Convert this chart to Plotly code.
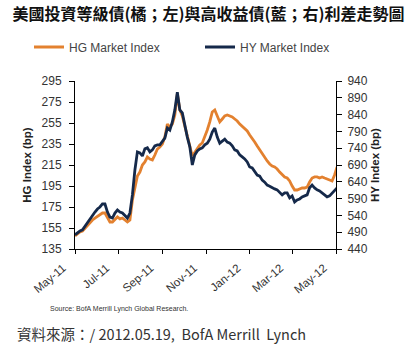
import pandas as pd
import plotly.graph_objects as go

# Half-weekly observation dates (every 3.5 days) from May 2011 to early May 2012
dates = pd.date_range("2011-05-01", periods=106, freq="84h")

# HG Market Index spread (bp), left axis (orange)
hg = [147.4, 149.3, 151.2, 152.1, 155.0, 157.9, 159.8, 162.6, 164.5, 166.4,
      167.4, 169.3, 169.3, 164.5, 160.7, 160.7, 163.6, 165.5, 163.6, 164.5,
      162.6, 160.7, 162.6, 181.7, 193.1, 204.5, 208.3, 215.0, 217.9, 222.6,
      220.7, 219.8, 224.5, 230.2, 232.1, 235.0, 241.7, 254.0, 251.2, 254.0,
      262.6, 282.6, 267.4, 261.7, 252.1, 243.6, 233.1, 223.6, 227.4, 231.2,
      234.0, 236.0, 241.7, 248.3, 256.0, 265.5, 267.4, 261.7, 256.0, 258.8,
      261.7, 262.6, 261.7, 260.7, 258.8, 256.9, 254.0, 252.1, 250.2, 247.4,
      243.6, 240.7, 236.9, 233.1, 229.3, 225.5, 222.6, 218.8, 216.0, 214.0,
      213.1, 211.2, 208.3, 205.5, 203.6, 202.6, 199.8, 195.0, 191.2, 191.2,
      192.1, 193.1, 193.1, 194.0, 198.8, 202.6, 203.6, 203.6, 202.6, 203.6,
      202.6, 201.7, 200.7, 199.8, 205.5, 213.1]

# HY Market Index spread (bp), right axis (navy)
hy = [482, 488, 494, 497, 508, 520, 529, 541, 550, 559,
      565, 574, 574, 550, 535, 532, 547, 556, 550, 547,
      538, 532, 547, 601, 675, 729, 726, 717, 738, 741,
      729, 735, 747, 750, 750, 761, 770, 800, 794, 818,
      854, 907, 854, 845, 803, 773, 744, 690, 720, 732,
      738, 741, 750, 755, 767, 788, 800, 773, 755, 761,
      767, 758, 755, 747, 735, 732, 720, 714, 708, 699,
      684, 681, 669, 660, 657, 645, 639, 630, 627, 622,
      619, 616, 607, 601, 607, 607, 592, 598, 580, 586,
      589, 595, 598, 601, 622, 630, 622, 616, 613, 607,
      601, 595, 598, 607, 613, 622]

hg_ticks = [135, 155, 175, 195, 215, 235, 255, 275, 295]
hy_ticks = [440, 490, 540, 590, 640, 690, 740, 790, 840, 890, 940]
x_ticks = ["2011-05-01", "2011-07-01", "2011-09-01", "2011-11-01",
           "2012-01-01", "2012-03-01", "2012-05-01"]
x_labels = ["May-11", "Jul-11", "Sep-11", "Nov-11", "Jan-12", "Mar-12", "May-12"]

ORANGE = "#E3812F"
NAVY = "#15294A"
SANS = "Liberation Sans, Arial"
TICK_FONT = dict(family=SANS, size=12, color="#333333")
LEG_FONT = dict(family=SANS, size=12, color="#444444")

fig = go.Figure()
fig.add_trace(go.Scatter(x=dates, y=hg, name="HG Market Index", mode="lines",
                         line=dict(color=ORANGE, width=2.8), yaxis="y",
                         legend="legend", showlegend=True))
fig.add_trace(go.Scatter(x=dates, y=hy, name="HY Market Index", mode="lines",
                         line=dict(color=NAVY, width=2.8), yaxis="y2",
                         legend="legend2", showlegend=True))

fig.update_layout(
    width=417, height=347,
    showlegend=True,
    margin=dict(l=75, r=81, t=81, b=98),
    paper_bgcolor="white", plot_bgcolor="white",
    title=dict(text="<b>美國投資等級債(橘；左)與高收益債(藍；右)利差走勢圖</b>",
               x=0.5, xref="container", xanchor="center",
               y=1 - 14 / 347, yref="container", yanchor="middle",
               font=dict(family="Noto Sans CJK TC", size=16, color="#111111")),
    legend=dict(orientation="h", x=(29 - 75) / 261, xanchor="left",
                y=(249 - 47) / 168, yanchor="middle", font=LEG_FONT,
                bgcolor="rgba(0,0,0,0)", itemwidth=30, visible=True),
    legend2=dict(orientation="h", x=(200 - 75) / 261, xanchor="left",
                 y=(249 - 47) / 168, yanchor="middle", font=LEG_FONT,
                 bgcolor="rgba(0,0,0,0)", itemwidth=30, visible=True),
    xaxis=dict(type="date", range=["2011-05-01", "2012-05-01"],
               tickmode="array", tickvals=x_ticks, ticktext=x_labels,
               tickangle=-40, tickfont=dict(family=SANS, size=11.5, color="#333333"),
               ticklabelstandoff=3, ticklabelshift=-12,
               showline=True, linecolor="#000000", linewidth=1,
               ticks="outside", ticklen=4, tickcolor="#000000",
               showgrid=False, zeroline=False),
    yaxis=dict(range=[135, 295], tickmode="array", tickvals=hg_ticks,
               tickfont=TICK_FONT, ticklabelstandoff=5,
               title=dict(text="<b>HG Index (bp)</b>", standoff=7,
                          font=dict(family=SANS, size=11.5, color="#222222")),
               showline=True, linecolor="#000000", linewidth=1,
               ticks="outside", ticklen=5, tickcolor="#000000",
               showgrid=False, zeroline=False),
    yaxis2=dict(range=[440, 940], tickmode="array", tickvals=hy_ticks,
                overlaying="y", side="right", tickfont=TICK_FONT,
                ticklabelstandoff=3,
                title=dict(text="<b>HY Index (bp)</b>", standoff=4,
                           font=dict(family=SANS, size=11.5, color="#222222")),
                showline=True, linecolor="#000000", linewidth=1,
                ticks="outside", ticklen=5, tickcolor="#000000",
                showgrid=False, zeroline=False),
    annotations=[
        dict(text="Source: BofA Merrill Lynch Global Research.",
             xref="paper", yref="paper", x=(48 - 75) / 261, y=(249 - 309) / 168,
             xanchor="left", yanchor="middle", showarrow=False,
             font=dict(family=SANS, size=7, color="#333333")),
        dict(text="資料來源：/ 2012.05.19,  BofA Merrill  Lynch",
             xref="paper", yref="paper", x=(15 - 75) / 261, y=(249 - 333) / 168,
             xanchor="left", yanchor="middle", showarrow=False,
             font=dict(family="Noto Sans CJK TC", size=14.5, color="#333333")),
    ],
)

fig.write_html("out.html")
